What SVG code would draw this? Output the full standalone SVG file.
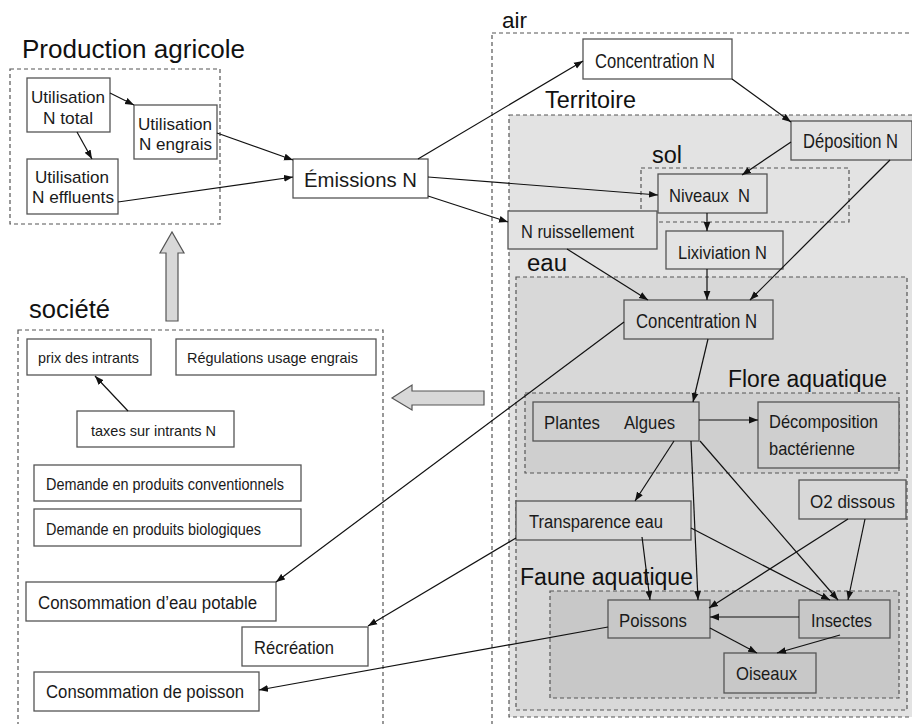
<svg xmlns="http://www.w3.org/2000/svg" width="912" height="724" viewBox="0 0 912 724">
<defs>
<style>
text{font-family:"Liberation Sans",Arial,sans-serif;fill:#1a1a1a}
.t{font-size:23px;fill:#111}
.box{stroke:#555;stroke-width:1.3}
.cont{stroke:#555;stroke-width:1.2;stroke-dasharray:4,3}
.c line{stroke:#111;stroke-width:1.2;marker-end:url(#ah)}
.big{fill:#d8d8d8;stroke:#555;stroke-width:1.2}
</style>
<marker id="ah" markerWidth="10" markerHeight="8" refX="9" refY="4" orient="auto" markerUnits="userSpaceOnUse">
<path d="M0,0.6 L9,4 L0,7.4 z" fill="#111"/>
</marker>
</defs>
<rect width="912" height="724" fill="#fff"/>

<!-- containers -->
<g id="containers">
<rect class="cont" x="10" y="69" width="210" height="155" fill="none"/>
<rect class="cont" x="18" y="330" width="365" height="400" fill="none"/>
<rect class="cont" x="492" y="33" width="430" height="700" fill="none"/>
<rect class="cont" x="509" y="115" width="410" height="602" fill="#e3e3e3"/>
<rect class="cont" x="641" y="168" width="208" height="54" fill="none"/>
<rect class="cont" x="516" y="277" width="391" height="433" fill="#d8d8d8"/>
<rect class="cont" x="525" y="393" width="374" height="80" fill="#cfcfcf"/>
<rect class="cont" x="550" y="591" width="349" height="107" fill="#c8c8c8"/>
<text class="t" x="22" y="58" style="font-size:26px" textLength="223" lengthAdjust="spacingAndGlyphs">Production agricole</text>
<text class="t" x="29" y="318" style="font-size:26px" textLength="81" lengthAdjust="spacingAndGlyphs">société</text>
<text class="t" x="502" y="28" style="font-size:22px" textLength="25" lengthAdjust="spacingAndGlyphs">air</text>
<text class="t" x="545" y="108" textLength="91" lengthAdjust="spacingAndGlyphs">Territoire</text>
<text class="t" x="652" y="163" textLength="30" lengthAdjust="spacingAndGlyphs">sol</text>
<text class="t" x="527" y="271" textLength="40" lengthAdjust="spacingAndGlyphs">eau</text>
<text class="t" x="728" y="387" textLength="159" lengthAdjust="spacingAndGlyphs">Flore aquatique</text>
<text class="t" x="520" y="585" textLength="173" lengthAdjust="spacingAndGlyphs">Faune aquatique</text>
</g>

<!-- big arrows -->
<g id="bigarrows">
<polygon class="big" points="166,321 166,253 160,253 172,232 184,253 178,253 178,321"/>
<polygon class="big" points="484,391 412,391 412,385 392,398 412,410 412,405 484,405"/>
</g>

<!-- nodes -->
<g id="n-total"><rect class="box" x="27" y="78" width="83" height="54" fill="#fff"/>
<text x="31" y="103" font-size="17" textLength="74" lengthAdjust="spacingAndGlyphs">Utilisation</text>
<text x="43" y="124" font-size="17" textLength="50" lengthAdjust="spacingAndGlyphs">N total</text></g>
<g id="n-engrais"><rect class="box" x="134" y="105" width="83" height="54" fill="#fff"/>
<text x="138" y="130" font-size="17" textLength="74" lengthAdjust="spacingAndGlyphs">Utilisation</text>
<text x="139" y="150" font-size="17" textLength="73" lengthAdjust="spacingAndGlyphs">N engrais</text></g>
<g id="n-effluents"><rect class="box" x="27" y="159" width="91" height="55" fill="#fff"/>
<text x="35" y="183" font-size="17" textLength="74" lengthAdjust="spacingAndGlyphs">Utilisation</text>
<text x="32" y="203" font-size="17" textLength="82" lengthAdjust="spacingAndGlyphs">N effluents</text></g>
<g id="emissions"><rect class="box" x="293" y="159" width="135" height="39" fill="#fff"/>
<text x="304" y="187" font-size="20" textLength="113" lengthAdjust="spacingAndGlyphs">Émissions N</text></g>

<g id="conc-air"><rect class="box" x="583" y="39" width="149" height="40" fill="#fff"/>
<text x="595" y="68" font-size="20" textLength="120" lengthAdjust="spacingAndGlyphs">Concentration N</text></g>
<g id="deposition"><rect class="box" x="791" y="121" width="121" height="39" fill="#e3e3e3"/>
<text x="803" y="148" font-size="20" textLength="95" lengthAdjust="spacingAndGlyphs">Déposition N</text></g>
<g id="niveaux"><rect class="box" x="658" y="174" width="109" height="39" fill="#e3e3e3"/>
<text x="669" y="202" font-size="19" textLength="81" lengthAdjust="spacingAndGlyphs" xml:space="preserve">Niveaux  N</text></g>
<g id="ruissellement"><rect class="box" x="508" y="211" width="149" height="38" fill="#e3e3e3"/>
<text x="521" y="238" font-size="18" textLength="113" lengthAdjust="spacingAndGlyphs">N ruissellement</text></g>
<g id="lixiviation"><rect class="box" x="666" y="231" width="117" height="38" fill="#e3e3e3"/>
<text x="678" y="259" font-size="18" textLength="89" lengthAdjust="spacingAndGlyphs">Lixiviation N</text></g>
<g id="conc-eau"><rect class="box" x="624" y="300" width="149" height="39" fill="#d8d8d8"/>
<text x="636" y="328" font-size="20" textLength="121" lengthAdjust="spacingAndGlyphs">Concentration N</text></g>
<g id="plantes"><rect class="box" x="533" y="402" width="166" height="39" fill="#cfcfcf"/>
<text x="544" y="429" font-size="19" textLength="56" lengthAdjust="spacingAndGlyphs">Plantes</text>
<text x="624" y="429" font-size="19" textLength="51" lengthAdjust="spacingAndGlyphs">Algues</text></g>
<g id="decomposition"><rect class="box" x="758" y="402" width="141" height="66" fill="#cfcfcf"/>
<text x="769" y="428" font-size="19" textLength="109" lengthAdjust="spacingAndGlyphs">Décomposition</text>
<text x="769" y="455" font-size="19" textLength="86" lengthAdjust="spacingAndGlyphs">bactérienne</text></g>
<g id="o2"><rect class="box" x="799" y="480" width="107" height="39" fill="#d8d8d8"/>
<text x="810" y="508" font-size="19" textLength="85" lengthAdjust="spacingAndGlyphs">O2 dissous</text></g>
<g id="transparence"><rect class="box" x="516" y="501" width="175" height="39" fill="#d8d8d8"/>
<text x="529" y="528" font-size="18" textLength="134" lengthAdjust="spacingAndGlyphs">Transparence eau</text></g>
<g id="poissons"><rect class="box" x="608" y="600" width="102" height="38" fill="#c8c8c8"/>
<text x="619" y="627" font-size="19" textLength="68" lengthAdjust="spacingAndGlyphs">Poissons</text></g>
<g id="insectes"><rect class="box" x="799" y="600" width="91" height="38" fill="#c8c8c8"/>
<text x="811" y="627" font-size="19" textLength="61" lengthAdjust="spacingAndGlyphs">Insectes</text></g>
<g id="oiseaux"><rect class="box" x="724" y="653" width="92" height="40" fill="#c8c8c8"/>
<text x="736" y="680" font-size="19" textLength="61" lengthAdjust="spacingAndGlyphs">Oiseaux</text></g>

<g id="prix"><rect class="box" x="27" y="339" width="124" height="36" fill="#fff"/>
<text x="38" y="363" font-size="15" textLength="101" lengthAdjust="spacingAndGlyphs">prix des intrants</text></g>
<g id="regulations"><rect class="box" x="176" y="339" width="200" height="36" fill="#fff"/>
<text x="187" y="363" font-size="15" textLength="171" lengthAdjust="spacingAndGlyphs">Régulations usage engrais</text></g>
<g id="taxes"><rect class="box" x="77" y="411" width="157" height="36" fill="#fff"/>
<text x="91" y="436" font-size="15" textLength="125" lengthAdjust="spacingAndGlyphs">taxes sur intrants N</text></g>
<g id="demande-conv"><rect class="box" x="34" y="465" width="267" height="36" fill="#fff"/>
<text x="46" y="490" font-size="16" textLength="238" lengthAdjust="spacingAndGlyphs">Demande en produits conventionnels</text></g>
<g id="demande-bio"><rect class="box" x="34" y="509" width="267" height="37" fill="#fff"/>
<text x="46" y="535" font-size="16" textLength="215" lengthAdjust="spacingAndGlyphs">Demande en produits biologiques</text></g>
<g id="conso-eau"><rect class="box" x="26" y="582" width="250" height="39" fill="#fff"/>
<text x="38" y="609" font-size="18" textLength="219" lengthAdjust="spacingAndGlyphs">Consommation d’eau potable</text></g>
<g id="recreation"><rect class="box" x="242" y="627" width="126" height="39" fill="#fff"/>
<text x="254" y="654" font-size="19" textLength="80" lengthAdjust="spacingAndGlyphs">Récréation</text></g>
<g id="conso-poisson"><rect class="box" x="34" y="672" width="225" height="39" fill="#fff"/>
<text x="46" y="698" font-size="18" textLength="198" lengthAdjust="spacingAndGlyphs">Consommation de poisson</text></g>

<!-- connectors -->
<g id="connectors" class="c">
<line x1="110" y1="93" x2="134" y2="105"/>
<line x1="77" y1="132" x2="92" y2="159"/>
<line x1="217" y1="133" x2="293" y2="160"/>
<line x1="118" y1="202" x2="293" y2="177"/>
<line x1="418" y1="159" x2="583" y2="61"/>
<line x1="428" y1="177" x2="658" y2="195"/>
<line x1="428" y1="196" x2="508" y2="222"/>
<line x1="732" y1="79" x2="791" y2="122"/>
<line x1="791" y1="142" x2="742" y2="175"/>
<line x1="707" y1="213" x2="707" y2="231"/>
<line x1="567" y1="249" x2="648" y2="300"/>
<line x1="707" y1="269" x2="707" y2="300"/>
<line x1="890" y1="160" x2="750" y2="300"/>
<line x1="708" y1="339" x2="693" y2="402"/>
<line x1="624" y1="322" x2="276" y2="582"/>
<line x1="699" y1="420" x2="758" y2="420"/>
<line x1="674" y1="441" x2="635" y2="501"/>
<line x1="691" y1="441" x2="698" y2="600"/>
<line x1="700" y1="441" x2="838" y2="600"/>
<line x1="642" y1="537" x2="650" y2="600"/>
<line x1="691" y1="528" x2="830" y2="600"/>
<line x1="865" y1="519" x2="848" y2="600"/>
<line x1="848" y1="519" x2="709" y2="608"/>
<line x1="799" y1="617" x2="710" y2="617"/>
<line x1="710" y1="628" x2="757" y2="653"/>
<line x1="840" y1="635" x2="777" y2="653"/>
<line x1="516" y1="538" x2="368" y2="626"/>
<line x1="608" y1="627" x2="259" y2="690"/>
<line x1="128" y1="411" x2="95" y2="376"/>
</g>
</svg>
